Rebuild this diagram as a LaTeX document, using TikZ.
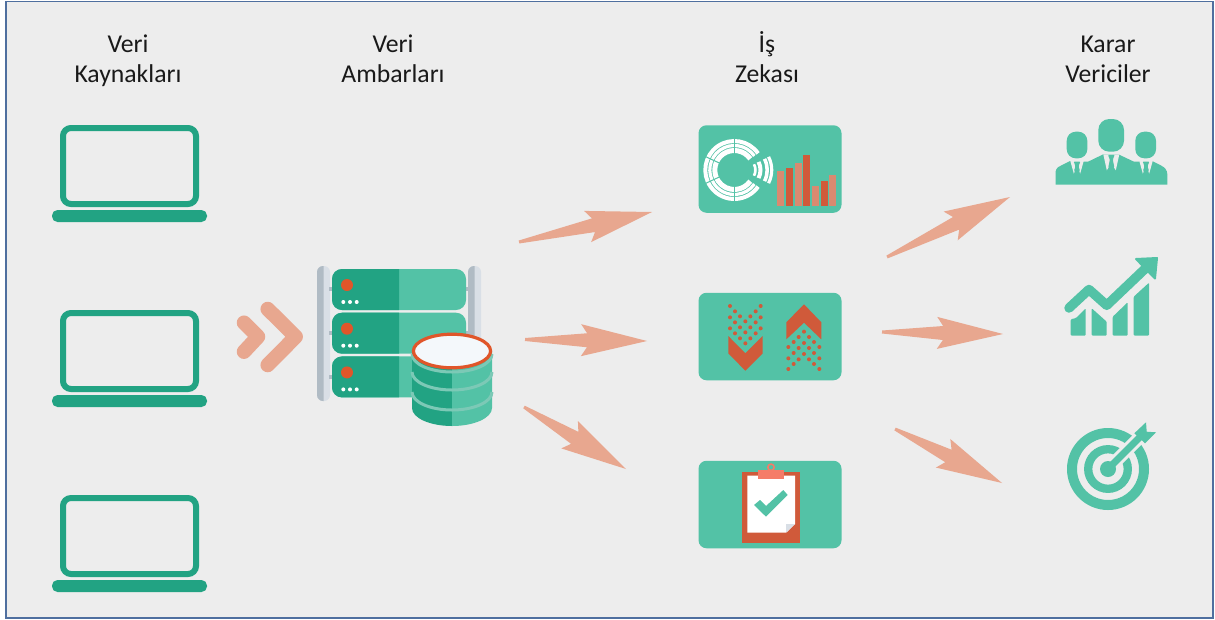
\documentclass[tikz,border=0pt]{standalone}
\usepackage{fontspec}
\setmainfont{Carlito}
\usetikzlibrary{calc}

\definecolor{zemin}{HTML}{EDEDED}
\definecolor{koyuyesil}{HTML}{22A383}
\definecolor{acikyesil}{HTML}{53C2A6}
\definecolor{bantyesil}{HTML}{7CC9B6}
\definecolor{kirmizi}{HTML}{D05A3A}
\definecolor{turuncu}{HTML}{E0562A}
\definecolor{somon}{HTML}{E8A78F}
\definecolor{soluk}{HTML}{D98A70}
\definecolor{klips}{HTML}{F57C68}
\definecolor{griray}{HTML}{B0BBC4}
\definecolor{acikray}{HTML}{D9DFE6}
\definecolor{kapak}{HTML}{F4F8FB}
\definecolor{kenar}{HTML}{4F6F9F}

\tikzset{
  baslik/.style={align=center,inner sep=0pt,font=\fontsize{25.7}{30}\selectfont,text=black!90},
  kart/.style={fill=acikyesil,rounded corners=8pt,minimum width=143pt,minimum height=87.5pt,inner sep=0pt},
  ekran/.style={draw=koyuyesil,line width=6pt,rounded corners=8pt},
  taban/.style={fill=koyuyesil,rounded corners=5.5pt},
  ok/.style={fill=somon},
  sevron/.style={draw=somon,line width=14.5pt,line cap=round,line join=round},
}

% one block arrow between two named points
\newcommand{\blokok}[2]{
  \fill[ok] ($(#1)!1.5pt!90:(#2)$)
    -- ($(#2)!60pt!(#1)!7pt!-90:(#1)$)
    -- ($(#2)!66pt!(#1)!16pt!-90:(#1)$)
    -- (#2)
    -- ($(#2)!66pt!(#1)!16pt!90:(#1)$)
    -- ($(#2)!60pt!(#1)!7pt!90:(#1)$)
    -- ($(#1)!1.5pt!-90:(#2)$) -- cycle;
}

\begin{document}
\begin{tikzpicture}[x=1pt,y=-1pt]
  \useasboundingbox (0,0) rectangle (1215,619);
  \fill[white] (0,0) rectangle (1215,619);
  \draw[draw=kenar,fill=zemin,line width=1.5pt] (6,1.5) rectangle (1213,618);

  % Draw the column titles
  \node[baslik] (kaynak) at (128,61) {\strut Veri\\\strut Kaynakları};
  \node[baslik] (ambar) at (393,61) {\strut Veri\\\strut Ambarları};
  \node[baslik] (zeka) at (767,61) {\strut İş\\\strut Zekası};
  \node[baslik] (karar) at (1108,61) {\strut Karar\\\strut Vericiler};

  % Draw the laptops
  \foreach \y in {0,185,370} {
    \draw[ekran] (63,128+\y) rectangle (196,204+\y);
    \fill[taban] (52,210+\y) rectangle (207,222+\y);
  }

  % Draw the double chevron
  \draw[sevron] (244,322.7) -- (258,336.7) -- (244,351.7);
  \draw[sevron] (267.7,309) -- (295.7,336.7) -- (267.7,365);

  % Draw the rack
  \foreach \x in {317,468} {
    \fill[acikray,rounded corners=6pt] (\x,266) rectangle (\x+13,401);
    \begin{scope}
      \clip (\x,266) rectangle (\x+6.5,401);
      \fill[griray,rounded corners=6pt] (\x,266) rectangle (\x+13,401);
    \end{scope}
  }
  \foreach \y in {289,333,377} {
    \fill[griray] (329,\y-2) rectangle (333,\y+2);
    \fill[griray] (465,\y-2) rectangle (469,\y+2);
  }
  \foreach \y in {269,312.7,356.4} {
    \fill[acikyesil,rounded corners=10pt] (332,\y) rectangle (466,\y+41);
    \begin{scope}
      \clip (332,\y) rectangle (399,\y+41);
      \fill[koyuyesil,rounded corners=10pt] (332,\y) rectangle (466,\y+41);
    \end{scope}
    \fill[turuncu] (347,\y+16) circle (6pt);
    \fill[white] (343.3,\y+33) circle (2pt);
    \fill[white] (350,\y+33) circle (2pt);
    \fill[white] (356.7,\y+33) circle (2pt);
  }

  % Draw the cylinder
  \fill[koyuyesil] (412,351) -- (412,408) arc[start angle=180,end angle=270,x radius=40pt,y radius=18pt] -- (452,351) -- cycle;
  \fill[acikyesil] (452,351) -- (452,426) arc[start angle=270,end angle=360,x radius=40pt,y radius=18pt] -- (492,351) -- cycle;
  \draw[bantyesil,line width=3pt] (412,354) arc[start angle=180,end angle=360,x radius=40pt,y radius=18pt];
  \draw[bantyesil,line width=3pt] (412,372) arc[start angle=180,end angle=360,x radius=40pt,y radius=18pt];
  \draw[bantyesil,line width=3pt] (412,392) arc[start angle=180,end angle=360,x radius=40pt,y radius=18pt];
  \draw[draw=turuncu,fill=kapak,line width=3.2pt] (452,351) ellipse (38.6pt and 16.8pt);

  % Draw the cards
  \node[kart] (zeka1) at (770,169) {};
  \node[kart] (zeka2) at (770,336.5) {};
  \node[kart] (zeka3) at (770,504.5) {};

  % Rings and bars on the first card
  \foreach \r/\w in {29/4,24.5/3.2,19.5/5} {
    \draw[white,line width=\w pt] ($(734.3,170)+(35:\r pt)$) arc[start angle=35,end angle=325,radius=\r pt];
  }
  \foreach \a in {90,270,155,205} {
    \draw[acikyesil,line width=1pt] ($(734.3,170)+(\a:15pt)$) -- ($(734.3,170)+(\a:32pt)$);
  }
  \foreach \r/\w in {12.7/2.7,17.8/4,24.5/3.6,29/3.2} {
    \draw[white,line width=\w pt] ($(742.7,170)+(27:\r pt)$) arc[start angle=27,end angle=-27,radius=\r pt];
  }
  \fill[soluk] (777,171) rectangle (784,206);
  \fill[kirmizi] (786,168) rectangle (793,206);
  \fill[soluk] (795,163) rectangle (802,206);
  \fill[kirmizi] (803,155) rectangle (810,206);
  \fill[soluk] (811.7,186) rectangle (819.3,206);
  \fill[kirmizi] (821,181) rectangle (828,206);
  \fill[soluk] (829,175) rectangle (836,206);

  % Chevrons and dots on the second card
  \fill[kirmizi] (728.3,336) -- (745.3,353.3) -- (762.7,336) -- (762.7,353.3) -- (745.3,370.7) -- (728.3,353.3) -- cycle;
  \fill[kirmizi] (804,304.3) -- (821.3,322.3) -- (821.3,339.3) -- (804,322.7) -- (786.3,339.3) -- (786.3,322.3) -- cycle;
  \foreach \x/\y in {150/78,242/78,165/94,227/94,150/112,180/109,211/109,242/112,165/127,196/124,227/127,150/145,180/142,211/142,242/145,165/160,196/157,227/160,180/175,211/175,196/190,
    372/155,356/171,387/171,341/186,372/189,402/186,325/201,356/204,387/204,418/201,341/219,372/222,402/219,325/235,356/238,387/238,418/235,341/252,402/252,325/267,418/267} {
    \fill[kirmizi] (680+\x/3,280+\y/3) circle (2pt);
  }

  % Clipboard on the third card
  \fill[kirmizi] (742,472) rectangle (800,543.3);
  \fill[white] (747.3,475.7) -- (795,475.7) -- (795,524) -- (786,532.7) -- (747.3,532.7) -- cycle;
  \fill[acikray] (786,524) -- (795,524) -- (786,532.7) -- cycle;
  \draw[draw=klips,fill=acikyesil,line width=1.6pt] (771,467.3) circle (3.2pt);
  \fill[klips] (758.3,469.7) rectangle (784,478.7);
  \fill[acikyesil] (754,505) -- (760,500) -- (766,506) -- (783.3,490) -- (787.7,495) -- (766,516.7) -- cycle;

  % Draw the people
  \fill[acikyesil] (1055.5,184.5) -- (1055.5,172) .. controls (1056,168) and (1059,166) .. (1062,165) -- (1070,161) -- (1088,161.7) -- (1103.3,154.3) -- (1118.3,154.3) -- (1134,161.7) -- (1152,161) -- (1161,165.5) .. controls (1165,167.5) and (1167,170) .. (1167.3,174) -- (1167.3,184.5) -- cycle;
  \fill[acikyesil,rounded corners=11pt] (1098.3,119) rectangle (1124,151.7);
  \fill[acikyesil,rounded corners=9pt] (1066.7,131.7) rectangle (1087.3,158.3);
  \fill[acikyesil,rounded corners=9pt] (1135.3,131.7) rectangle (1156,158.3);
  \foreach \x/\y/\w/\d in {1111.3/154.3/8/16,1077/161/6.7/12.5,1146/161/6.7/12.5} {
    \fill[zemin] (\x-\w,\y) -- (\x-\w+3.5,\y+\d) -- (\x,\y+\d-7) -- (\x+\w-3.5,\y+\d) -- (\x+\w,\y) -- cycle;
    \fill[acikyesil,rounded corners=0.8pt] (\x-3.3,\y+0.5) -- (\x+3.3,\y+0.5) -- (\x+1.5,\y+5.5) -- (\x+3,\y+\d-3) -- (\x,\y+\d+1) -- (\x-3,\y+\d-3) -- (\x-1.5,\y+5.5) -- cycle;
  }

  % Draw the rising chart
  \fill[acikyesil,rounded corners=1pt] (1070.7,319.3) -- (1076,318) -- (1085.7,308.3) -- (1085.7,335.7) -- (1070.7,335.7) -- cycle;
  \fill[acikyesil,rounded corners=1pt] (1091.7,308.3) -- (1106.7,321.7) -- (1106.7,335.7) -- (1091.7,335.7) -- cycle;
  \fill[acikyesil,rounded corners=1pt] (1112.7,316.7) -- (1127.7,302.3) -- (1127.7,335.7) -- (1112.7,335.7) -- cycle;
  \fill[acikyesil,rounded corners=1pt] (1133.7,296.7) -- (1149,282.7) -- (1149,335.7) -- (1133.7,335.7) -- cycle;
  \draw[acikyesil,line width=9.5pt,line cap=round,line join=round] (1069,308) -- (1089,289.5) -- (1106.7,305.3) -- (1148,266);
  \fill[acikyesil,draw=acikyesil,line width=2pt,line join=round] (1136,259) -- (1157,258) -- (1155,278.5) -- cycle;

  % Draw the target
  \draw[acikyesil,line width=10pt] (1108,469) circle (36pt);
  \draw[acikyesil,line width=8.3pt] (1108,469) circle (19.8pt);
  \draw[zemin,line width=13pt] (1108,469) -- (1150,427);
  \fill[acikyesil] (1108,469) circle (8pt);
  \draw[acikyesil,line width=7pt] (1108,469) -- (1140,437);
  \fill[acikyesil] (1134.3,433.3) -- (1146,422.3) -- (1146.7,431.7) -- (1156,432.3) -- (1145,443.3) -- cycle;

  % Draw the arrows
  \coordinate (depo1) at (519,242);
  \coordinate (depo2) at (525,339.5);
  \coordinate (depo3) at (524,407);
  \coordinate (hedef1) at (652,212);
  \coordinate (hedef2) at (647,341);
  \coordinate (hedef3) at (626,469);
  \coordinate (cikis1) at (887,257);
  \coordinate (cikis2) at (882,332);
  \coordinate (cikis3) at (895,429);
  \coordinate (grup1) at (1010,197);
  \coordinate (grup2) at (1003,334);
  \coordinate (grup3) at (1002,483);
  \blokok{depo1}{hedef1}
  \blokok{depo2}{hedef2}
  \blokok{depo3}{hedef3}
  \blokok{cikis1}{grup1}
  \blokok{cikis2}{grup2}
  \blokok{cikis3}{grup3}
\end{tikzpicture}
\end{document}
